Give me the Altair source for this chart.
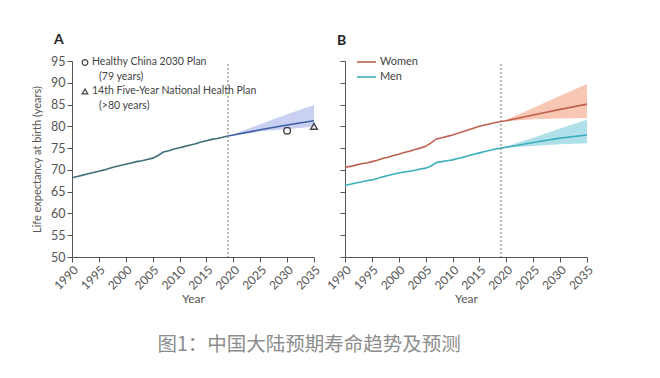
import altair as alt
import pandas as pd

# ---------------- data ----------------
years_hist = list(range(1990, 2020))
both_hist = [68.2, 68.5, 68.8, 69.1, 69.4, 69.7, 70.0, 70.4, 70.7, 71.0,
             71.3, 71.6, 71.9, 72.1, 72.4, 72.7, 73.3, 74.1, 74.4, 74.8,
             75.1, 75.4, 75.7, 76.0, 76.4, 76.7, 77.0, 77.2, 77.5, 77.8]
women_hist = [70.6, 70.8, 71.1, 71.4, 71.6, 71.9, 72.2, 72.6, 72.9, 73.3,
              73.6, 74.0, 74.3, 74.7, 75.0, 75.4, 76.2, 77.1, 77.4, 77.7,
              78.0, 78.4, 78.8, 79.2, 79.6, 80.0, 80.3, 80.6, 80.9, 81.1]
men_hist = [66.4, 66.7, 67.0, 67.2, 67.5, 67.7, 68.0, 68.4, 68.7, 69.0,
            69.3, 69.5, 69.7, 69.9, 70.2, 70.4, 70.9, 71.7, 71.9, 72.1,
            72.3, 72.6, 72.9, 73.3, 73.6, 73.9, 74.2, 74.5, 74.8, 75.0]

years_fc = [2019, 2020, 2025, 2030, 2035]
both_fc = [77.8, 78.0, 79.2, 80.3, 81.3]
both_lo = [77.8, 77.9, 78.8, 79.4, 79.9]
both_hi = [77.8, 78.2, 80.5, 82.8, 84.9]
women_fc = [81.1, 81.3, 82.6, 83.9, 85.1]
women_lo = [81.1, 81.2, 81.6, 81.8, 81.9]
women_hi = [81.1, 81.5, 84.2, 87.0, 89.7]
men_fc = [75.0, 75.2, 76.3, 77.3, 78.0]
men_lo = [75.0, 75.1, 75.5, 75.9, 76.1]
men_hi = [75.0, 75.4, 77.4, 79.5, 81.5]

target_years = [2030, 2035]
target_values = [79, 80]
target_shapes = ["circle", "triangle-up"]
divider_year = [2019]

year_ticks = list(range(1990, 2040, 5))
le_ticks = list(range(50, 100, 5))

legend_a = ["Healthy China 2030 Plan", "(79 years)",
            "14th Five-Year National Health Plan", "(>80 years)"]
legend_b = ["Women", "Men"]

caption = "图1：中国大陆预期寿命趋势及预测"

# ---------------- styles ----------------
FONT = "Lato"
AX = "#555555"
TXT = "#444444"
C_HIST_A = "#3f6f7a"
C_FC_A = "#3e5fa6"
C_BAND_A = "#c3cbef"
C_W = "#c0604f"
C_W_BAND = "#f6c1ab"
C_M = "#3aaebd"
C_M_BAND = "#a6dde7"

W, H = 242, 196

xs = alt.Scale(domain=[1990, 2035], nice=False, zero=False)
ys = alt.Scale(domain=[50, 95], nice=False, zero=False)

x_axis = alt.Axis(values=year_ticks, format="d", labelAngle=-45, title="Year",
                  grid=False, domainColor=AX, tickColor=AX, labelColor=AX,
                  titleColor=AX, labelFontSize=12, titleFontSize=12,
                  titleFontWeight="normal", tickSize=5, labelPadding=2,
                  titlePadding=2, labelFont=FONT, titleFont=FONT,
                  labelFlush=False, labelOverlap=False)
y_axis_a = alt.Axis(values=le_ticks, title="Life expectancy at birth (years)",
                    grid=False, domainColor=AX, tickColor=AX, labelColor=AX,
                    titleColor=AX, labelFontSize=12.5, titleFontSize=11,
                    titleFontWeight="normal", tickSize=5, labelPadding=2,
                    titlePadding=8, labelFont=FONT, titleFont=FONT,
                    labelFlush=False, labelOverlap=False)
y_axis_b = alt.Axis(values=le_ticks, title=None, labels=False, grid=False,
                    domainColor=AX, tickColor=AX, tickSize=5)

hist_df = pd.DataFrame({"year": years_hist, "both": both_hist,
                        "women": women_hist, "men": men_hist})
fc_df = pd.DataFrame({"year": years_fc, "both": both_fc, "both_lo": both_lo,
                      "both_hi": both_hi, "women": women_fc, "women_lo": women_lo,
                      "women_hi": women_hi, "men": men_fc, "men_lo": men_lo,
                      "men_hi": men_hi})
tgt_df = pd.DataFrame({"year": target_years, "val": target_values,
                       "shape": target_shapes})
div_df = pd.DataFrame({"year": divider_year})


def X():
    return alt.X("year:Q", scale=xs, axis=x_axis)


def rule_layer():
    return alt.Chart(div_df).mark_rule(color="#8a8a8a", strokeDash=[2, 2],
                                       strokeWidth=1.2).encode(
        x=alt.X("year:Q", scale=xs, axis=x_axis),
        y=alt.value(3), y2=alt.value(H))


def title(t, dx):
    return alt.TitleParams(t, anchor="start", frame="group", dx=dx, fontSize=14,
                           fontWeight="bold", font=FONT, color="#222222",
                           offset=8)


def text_layer(txt, xx, yy, size=10.5):
    return alt.Chart(pd.DataFrame({"t": [txt]})).mark_text(
        align="left", baseline="middle", fontSize=size, font=FONT, color=TXT
    ).encode(x=alt.value(xx), y=alt.value(yy), text="t:N")


def sym_layer(shp, xx, yy):
    return alt.Chart(pd.DataFrame({"s": [shp]})).mark_point(
        filled=False, color=TXT, strokeWidth=1.2, size=32, opacity=1,
        shape=shp).encode(x=alt.value(xx), y=alt.value(yy))


# ---------------- panel A ----------------
band_a = alt.Chart(fc_df).mark_area(color=C_BAND_A, opacity=0.9).encode(
    x=X(), y=alt.Y("both_lo:Q", scale=ys, axis=y_axis_a), y2="both_hi:Q")
hist_a = alt.Chart(hist_df).mark_line(color=C_HIST_A, strokeWidth=1.6).encode(
    x=X(), y=alt.Y("both:Q", scale=ys, axis=y_axis_a))
fc_a = alt.Chart(fc_df).mark_line(color=C_FC_A, strokeWidth=1.6).encode(
    x=X(), y=alt.Y("both:Q", scale=ys, axis=y_axis_a))
tgt_a = alt.Chart(tgt_df).mark_point(filled=False, color=TXT, strokeWidth=1.4,
                                     size=45, opacity=1).encode(
    x=X(), y=alt.Y("val:Q", scale=ys, axis=y_axis_a),
    shape=alt.Shape("shape:N", scale=None, legend=None))

leg_a_layers = [
    sym_layer("circle", 13, 1.5),
    text_layer(legend_a[0], 20, 1),
    text_layer(legend_a[1], 27, 16),
    sym_layer("triangle-up", 13, 30.5),
    text_layer(legend_a[2], 20, 30),
    text_layer(legend_a[3], 27, 45),
]

panel_a = alt.layer(band_a, hist_a, fc_a, rule_layer(), tgt_a,
                    *leg_a_layers).properties(
    width=W, height=H, title=title("A", -18))

# ---------------- panel B ----------------
band_w = alt.Chart(fc_df).mark_area(color=C_W_BAND, opacity=0.9).encode(
    x=X(), y=alt.Y("women_lo:Q", scale=ys, axis=y_axis_b), y2="women_hi:Q")
band_m = alt.Chart(fc_df).mark_area(color=C_M_BAND, opacity=0.9).encode(
    x=X(), y=alt.Y("men_lo:Q", scale=ys, axis=y_axis_b), y2="men_hi:Q")
hist_w = alt.Chart(hist_df).mark_line(color=C_W, strokeWidth=1.6).encode(
    x=X(), y=alt.Y("women:Q", scale=ys, axis=y_axis_b))
hist_m = alt.Chart(hist_df).mark_line(color=C_M, strokeWidth=1.6).encode(
    x=X(), y=alt.Y("men:Q", scale=ys, axis=y_axis_b))
fc_w = alt.Chart(fc_df).mark_line(color=C_W, strokeWidth=1.6).encode(
    x=X(), y=alt.Y("women:Q", scale=ys, axis=y_axis_b))
fc_m = alt.Chart(fc_df).mark_line(color=C_M, strokeWidth=1.6).encode(
    x=X(), y=alt.Y("men:Q", scale=ys, axis=y_axis_b))

leg_b_layers = []
for txt, col, yy in [(legend_b[0], C_W, 1), (legend_b[1], C_M, 16)]:
    leg_b_layers.append(
        alt.Chart(pd.DataFrame({"t": [txt]})).mark_rule(color=col, strokeWidth=1.6)
        .encode(x=alt.value(12), x2=alt.value(31), y=alt.value(yy)))
    leg_b_layers.append(text_layer(txt, 35, yy, 11))

panel_b = alt.layer(band_w, band_m, hist_w, hist_m, fc_w, fc_m,
                    rule_layer(), *leg_b_layers).properties(
    width=W, height=H, title=title("B", -8))

chart = alt.hconcat(panel_a, panel_b, spacing=31, bounds="flush").properties(
    title=alt.TitleParams(caption, orient="bottom", anchor="middle",
                          font="Noto Sans CJK SC", fontSize=19.5,
                          color="#8c8c8c", fontWeight="normal", offset=32,
                          dx=-4),
    padding={"left": 31, "top": 33, "right": 10, "bottom": 10},
    background="white",
).configure_view(stroke=None)

chart.save("out.html", embed_options={"renderer": "svg", "actions": False})
